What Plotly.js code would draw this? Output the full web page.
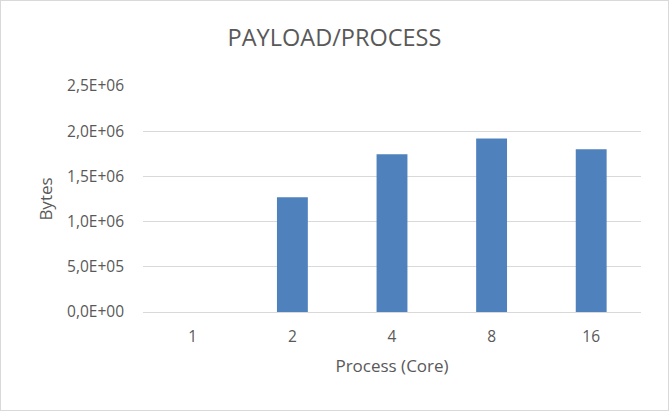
<!DOCTYPE html>
<html>
<head>
<meta charset="utf-8">
<script src="https://cdn.plot.ly/plotly-3.0.1.min.js"></script>
<style>
html,body{margin:0;padding:0;background:#fff;}
#chart{width:667px;height:409px;border:1px solid #d9d9d9;}
</style>
</head>
<body>
<div id="chart"></div>
<script>
const categories = ["1", "2", "4", "8", "16"];
const payloadBytes = [0, 1270000, 1745000, 1920000, 1800000];
const yTickVals = [0, 500000, 1000000, 1500000, 2000000, 2500000];
const yTickText = ["0,0E+00", "5,0E+05", "1,0E+06", "1,5E+06", "2,0E+06", "2,5E+06"];

const font = "Open Sans, Noto Sans, sans-serif";
const textColor = "#595959";

Plotly.newPlot("chart", [{
  type: "bar",
  x: categories,
  y: payloadBytes,
  marker: {color: "#4f81bd"},
  width: 0.31,
  hoverinfo: "x+y"
}], {
  width: 667, height: 409,
  margin: {l: 142, r: 27, t: 85, b: 98, pad: 0},
  paper_bgcolor: "#ffffff",
  plot_bgcolor: "#ffffff",
  showlegend: false,
  font: {family: font, color: textColor, size: 15},
  title: {text: "PAYLOAD/PROCESS", font: {family: font, size: 23.5, color: textColor}, x: 0.5, xanchor: "center", y: 0.91, yanchor: "middle"},
  xaxis: {
    type: "category",
    title: {text: "Process (Core)", font: {family: font, size: 17, color: textColor}, standoff: 14},
    showgrid: false, zeroline: false, showline: false,
    ticks: "", tickfont: {family: font, size: 15.5, color: textColor},
    ticklabelstandoff: 13
  },
  yaxis: {
    title: {text: "Bytes", font: {family: font, size: 17, color: textColor}, standoff: 10},
    range: [0, 2500000],
    tickmode: "array", tickvals: yTickVals, ticktext: yTickText,
    showgrid: true, gridcolor: "#d9d9d9", gridwidth: 1,
    zeroline: true, zerolinecolor: "#d9d9d9", zerolinewidth: 1,
    showline: false, ticks: "", ticklabelstandoff: 18,
    tickfont: {family: font, size: 15.5, color: textColor}
  }
}, {displayModeBar: false, staticPlot: true});
</script>
</body>
</html>
